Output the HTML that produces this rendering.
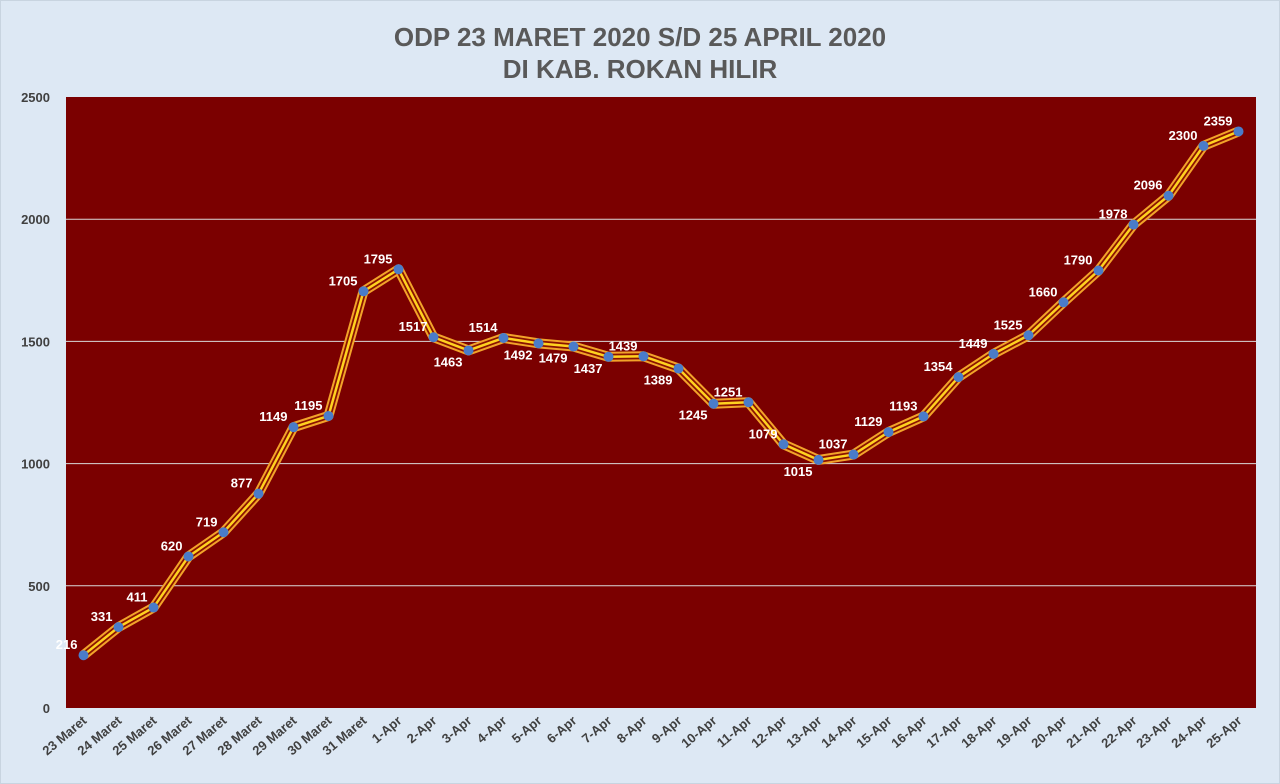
<!DOCTYPE html>
<html><head><meta charset="utf-8"><style>
body{margin:0;background:#dde8f4;}
svg{display:block;font-family:"Liberation Sans",sans-serif;}
</style></head><body>
<svg id="c" width="1280" height="784">
<rect x="0.5" y="0.5" width="1279" height="783" fill="#dde8f4" stroke="#c8d4e0"/>
<text x="640" y="46" text-anchor="middle" font-size="26" font-weight="bold" fill="#595959">ODP 23 MARET 2020 S/D 25 APRIL 2020</text>
<text x="640" y="78" text-anchor="middle" font-size="26" font-weight="bold" fill="#595959">DI KAB. ROKAN HILIR</text>
<rect x="66" y="97" width="1190" height="611" fill="#7b0000"/>
<g id="grid"></g><g id="series"></g><g id="labels"></g>
</svg>
<script>
const categories=["23 Maret","24 Maret","25 Maret","26 Maret","27 Maret","28 Maret","29 Maret","30 Maret","31 Maret","1-Apr","2-Apr","3-Apr","4-Apr","5-Apr","6-Apr","7-Apr","8-Apr","9-Apr","10-Apr","11-Apr","12-Apr","13-Apr","14-Apr","15-Apr","16-Apr","17-Apr","18-Apr","19-Apr","20-Apr","21-Apr","22-Apr","23-Apr","24-Apr","25-Apr"];
const odp=[216,331,411,620,719,877,1149,1195,1705,1795,1517,1463,1514,1492,1479,1437,1439,1389,1245,1251,1079,1015,1037,1129,1193,1354,1449,1525,1660,1790,1978,2096,2300,2359];
const yTicks=[0,500,1000,1500,2000,2500];
const below=[11,13,14,15,17,18,21];
const NS="http://www.w3.org/2000/svg";
const L=66,R=1256,T=97,B=708,yMax=2500;
const step=(R-L)/categories.length;
const xs=i=>L+step*(i+0.5);
const ys=v=>B-(v/yMax)*(B-T);
function mk(t,a,p){const e=document.createElementNS(NS,t);for(const k in a)e.setAttribute(k,a[k]);p.appendChild(e);return e;}
const g=document.getElementById('grid'),s=document.getElementById('series'),lb=document.getElementById('labels'),svg=document.getElementById('c');
yTicks.forEach(v=>{
 if(v>0&&v<yMax){const l=mk('line',{x1:L,x2:R,y1:ys(v),y2:ys(v),stroke:'#d9d9d9','stroke-width':1},g);
 
 }
 const t=mk('text',{x:50,y:ys(v)+5,'text-anchor':'end','font-size':13,'font-weight':'bold',fill:'#404040'},g);
 t.textContent=v;
 
 
});
categories.forEach((c,i)=>{
 const x=xs(i)+4,y=B+14;
 const t=mk('text',{x:x,y:y,'text-anchor':'end','font-size':13,'font-weight':'bold',fill:'#404040',transform:`rotate(-40 ${x} ${y})`},svg);
 t.textContent=c;
 
 
});
const pts=odp.map((v,i)=>xs(i)+','+ys(v)).join(' ');
[['#f2a32a',10],['#8a1200',6],['#ffd21f',2.5]].forEach(([col,w],k)=>{
 const p=mk('polyline',{points:pts,fill:'none',stroke:col,'stroke-width':w,'stroke-linejoin':'round'},s);
 
 
});
odp.forEach((v,i)=>{
 const c=mk('circle',{cx:xs(i),cy:ys(v),r:5,fill:'#4a7cc9'},s);
 
 
 const b=below.includes(i);
 const t=mk('text',{x:xs(i)-6,y:b?ys(v)+16:ys(v)-6,'text-anchor':'end','font-size':13,'font-weight':'bold',fill:'#ffffff'},lb);
 t.textContent=v;
 
 
});
</script>
</body></html>
